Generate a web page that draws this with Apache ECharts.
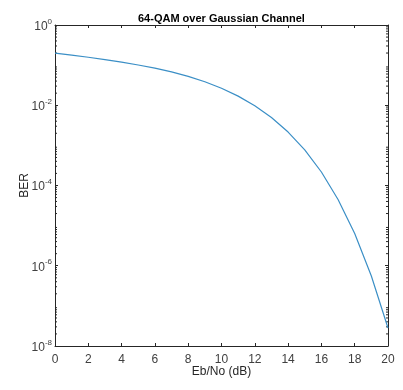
<!DOCTYPE html>
<html>
<head>
<meta charset="utf-8">
<script src="https://cdn.jsdelivr.net/npm/echarts@6/dist/echarts.min.js"></script>
<style>
  html, body { margin: 0; padding: 0; background: #fff; }
  #chart { width: 403px; height: 390px; }
</style>
</head>
<body>
<div id="chart"></div>
<script>
// Eb/No in dB and the BER
const ebno = [0, 1, 2, 3, 4, 5, 6, 7, 8, 9, 10, 11, 12, 13, 14, 15, 16, 17, 18, 19, 20];
const ber = [0.1999, 0.1779, 0.157, 0.1372, 0.1186, 0.1009, 0.0838, 0.0676, 0.0523, 0.0385,
  0.0265, 0.0169, 0.00974, 0.00495, 0.00215, 7.7e-4, 2.17e-4, 4.49e-5, 6.36e-6, 5.54e-7, 2.8e-8];
const xTicks = [0, 2, 4, 6, 8, 10, 12, 14, 16, 18, 20];
const yDecades = [-8, -7, -6, -5, -4, -3, -2, -1];
const minorMantissa = [2, 3, 4, 5, 6, 7, 8, 9];

const font = "Liberation Sans";
const axisColor = "#262626";

const minorTicks = [];
yDecades.forEach((d) => {
  minorMantissa.forEach((m) => minorTicks.push([0, m * Math.pow(10, d)]));
});

const chart = echarts.init(document.getElementById("chart"), null, { renderer: "canvas" });

const supLabel = (v) => {
  const e = Math.round(Math.log10(v));
  return "{b|10}{s|" + e + "}";
};

const option = {
  animation: false,
  title: {
    text: "64-QAM over Gaussian Channel",
    left: 133,
    top: 8,
    textStyle: { fontFamily: font, fontSize: 11, fontWeight: "bold", color: "#000" },
  },
  grid: { left: 55, right: 15, top: 25, bottom: 44 },
  xAxis: [
    {
      type: "value",
      min: 0,
      max: 20,
      interval: 2,
      name: "Eb/No (dB)",
      nameLocation: "middle",
      nameGap: 20,
      nameMoveOverlap: false,
      nameTextStyle: { fontFamily: font, fontSize: 12, color: axisColor },
      axisLine: { onZero: false, lineStyle: { color: axisColor, width: 1 } },
      axisTick: { inside: true, length: 3, lineStyle: { color: axisColor } },
      axisLabel: { fontFamily: font, fontSize: 12, color: "#404040", margin: 8 },
      splitLine: { show: false },
    },
    {
      type: "value",
      position: "top",
      min: 0,
      max: 20,
      interval: 2,
      axisLine: { onZero: false, lineStyle: { color: axisColor, width: 1 } },
      axisTick: { inside: true, length: 3, lineStyle: { color: axisColor } },
      axisLabel: { show: false },
      splitLine: { show: false },
    },
  ],
  yAxis: [
    {
      type: "log",
      logBase: 10,
      min: 1e-8,
      max: 1,
      interval: 2,
      name: "BER",
      nameLocation: "middle",
      nameGap: 24,
      nameMoveOverlap: false,
      nameTextStyle: { fontFamily: font, fontSize: 12, color: axisColor },
      axisLine: { onZero: false, lineStyle: { color: axisColor, width: 1 } },
      axisTick: { inside: true, length: 3, lineStyle: { color: axisColor } },
      axisLabel: {
        fontFamily: font,
        color: "#404040",
        margin: 3,
        formatter: supLabel,
        rich: {
          b: { fontFamily: font, fontSize: 12, color: "#404040", verticalAlign: "bottom" },
          s: { fontFamily: font, fontSize: 8, color: "#404040", verticalAlign: "bottom", padding: [0, 0, 7, 0] },
        },
      },
      splitLine: { show: false },
    },
    {
      type: "log",
      logBase: 10,
      position: "right",
      min: 1e-8,
      max: 1,
      interval: 2,
      axisLine: { onZero: false, lineStyle: { color: axisColor, width: 1 } },
      axisTick: { inside: true, length: 3, lineStyle: { color: axisColor } },
      axisLabel: { show: false },
      splitLine: { show: false },
    },
  ],
  series: [
    {
      type: "line",
      data: ebno.map((x, i) => [x, ber[i]]),
      showSymbol: false,
      symbol: "none",
      lineStyle: { color: "#3b8fc6", width: 1.2 },
      silent: true,
    },
    {
      // MATLAB-style log minor ticks on both sides of the box
      type: "custom",
      data: minorTicks,
      silent: true,
      renderItem: (params, api) => {
        const p = api.coord([0, api.value(1)]);
        const cs = params.coordSys;
        return {
          type: "group",
          children: [
            { type: "line", shape: { x1: cs.x, y1: p[1], x2: cs.x + 2, y2: p[1] }, style: { stroke: axisColor, lineWidth: 1 } },
            { type: "line", shape: { x1: cs.x + cs.width, y1: p[1], x2: cs.x + cs.width - 2, y2: p[1] }, style: { stroke: axisColor, lineWidth: 1 } },
          ],
        };
      },
    },
  ],
};

chart.setOption(option);
</script>
</body>
</html>
